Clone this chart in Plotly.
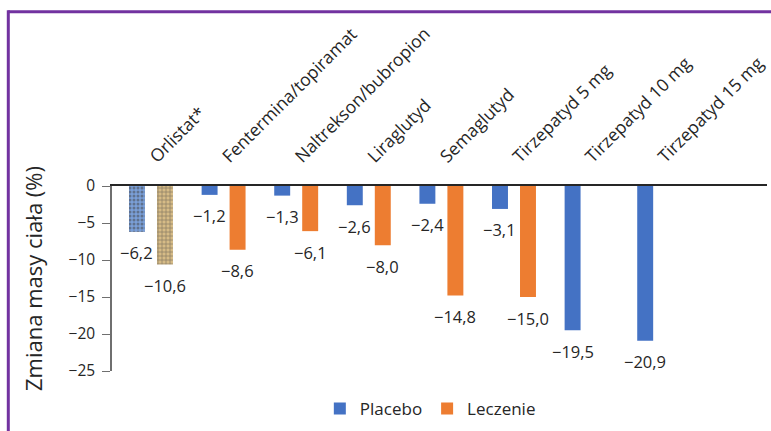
import plotly.graph_objects as go

# Weight change (%) per drug: placebo arm vs. active treatment arm
categories = [
    "Orlistat*",
    "Fentermina/topiramat",
    "Naltrekson/bubropion",
    "Liraglutyd",
    "Semaglutyd",
    "Tirzepatyd 5 mg",
    "Tirzepatyd 10 mg",
    "Tirzepatyd 15 mg",
]
placebo = [-6.2, -1.2, -1.3, -2.6, -2.4, -3.1, -19.5, -20.9]
treatment = [-10.6, -8.6, -6.1, -8.0, -14.8, -15.0, None, None]

y_ticks = [0, -5, -10, -15, -20, -25]

BLUE = "#4472C4"
ORANGE = "#ED7D31"
PURPLE = "#7232A0"
TEXT = "#262626"
FONT = "Open Sans"

W, H = 771, 431
L, R, T, B = 112, 4, 186, 60
PW, PH = W - L - R, H - T - B


def fmt(v):
    s = f"{abs(v):.1f}".replace(".", ",")
    return ("\u2212" + s) if v < 0 else s


def fmt_tick(v):
    return ("\u2212" + str(abs(v))) if v < 0 else str(v)


n = len(categories)

# Orlistat bars use a textured fill, the rest are solid
plac_colors = ["#7a9fd8"] + [BLUE] * (n - 1)
plac_shapes = ["."] + [""] * (n - 1)
plac_fg = ["#3a61a8"] + [BLUE] * (n - 1)
plac_bg = ["#8eaee0"] + [BLUE] * (n - 1)

trt_colors = ["#d6bb86"] + [ORANGE] * (n - 1)
trt_shapes = ["+"] + [""] * (n - 1)
trt_fg = ["#94743f"] + [ORANGE] * (n - 1)
trt_bg = ["#e0c794"] + [ORANGE] * (n - 1)

fig = go.Figure()
fig.add_trace(go.Bar(
    name="Placebo", x=categories, y=placebo, offsetgroup="p", showlegend=False,
    marker=dict(color=plac_colors, line=dict(width=0),
                pattern=dict(shape=plac_shapes, fgcolor=plac_fg, bgcolor=plac_bg,
                             size=4, solidity=0.45)),
))
fig.add_trace(go.Bar(
    name="Leczenie", x=categories, y=treatment, offsetgroup="t", showlegend=False,
    marker=dict(color=trt_colors, line=dict(width=0),
                pattern=dict(shape=trt_shapes, fgcolor=trt_fg, bgcolor=trt_bg,
                             size=4, solidity=0.35)),
))
# Solid legend entries (same offset groups, so no extra bar slots)
fig.add_trace(go.Bar(name="Placebo", x=[None], y=[None], offsetgroup="p",
                     marker=dict(color=BLUE, line=dict(width=0))))
fig.add_trace(go.Bar(name="Leczenie", x=[None], y=[None], offsetgroup="t",
                     marker=dict(color=ORANGE, line=dict(width=0))))

# Value labels under each bar end
annotations = []
for series, shift in ((placebo, -14), (treatment, 14)):
    for cat, v in zip(categories, series):
        if v is None:
            continue
        annotations.append(dict(
            x=cat, y=v, xref="x", yref="y", text=fmt(v), showarrow=False,
            xshift=shift, yshift=-21, yanchor="middle", xanchor="center",
            font=dict(family=FONT, size=16.5, color=TEXT),
        ))


def px_x(p):
    return (p - L) / PW


def px_y(p):
    return (H - B - p) / PH


# Purple frame along the top and left edges
shapes = [
    dict(type="line", xref="paper", yref="paper",
         x0=px_x(8.3), x1=px_x(W + 5), y0=px_y(11.7), y1=px_y(11.7),
         line=dict(color=PURPLE, width=3)),
    dict(type="line", xref="paper", yref="paper",
         x0=px_x(8.3), x1=px_x(8.3), y0=px_y(10.2), y1=px_y(H + 5),
         line=dict(color=PURPLE, width=3)),
]

fig.update_layout(
    width=W, height=H,
    margin=dict(l=L, r=R, t=T, b=B),
    paper_bgcolor="white", plot_bgcolor="white",
    barmode="group", bargap=0.229, bargroupgap=0.43,
    font=dict(family=FONT, color=TEXT),
    showlegend=True,
    legend=dict(orientation="h", x=0.486, y=-0.205, xanchor="center", yanchor="middle",
                font=dict(family=FONT, size=17, color=TEXT), itemwidth=30,
                traceorder="normal"),
    annotations=annotations,
    shapes=shapes,
    xaxis=dict(
        type="category", side="top", range=[-0.537, 8.485],
        tickangle=-45, ticks="", showline=True, linecolor=TEXT, linewidth=1.5,
        showgrid=False, zeroline=False, ticklabelstandoff=11,
        tickfont=dict(family=FONT, size=17.5, color=TEXT),
    ),
    yaxis=dict(
        range=[-25, 0], tickvals=y_ticks, ticktext=[fmt_tick(v) for v in y_ticks],
        ticks="outside", ticklen=8, tickcolor="#6f6f6f", tickwidth=1.3,
        showline=True, linecolor="#6f6f6f", linewidth=1.5,
        showgrid=False, zeroline=False, ticklabelstandoff=4,
        tickfont=dict(family=FONT, size=15.5, color=TEXT),
        title=dict(text="Zmiana masy ciała (%)", standoff=20,
                   font=dict(family=FONT, size=22, color=TEXT)),
    ),
)

fig.write_html("out.html")
